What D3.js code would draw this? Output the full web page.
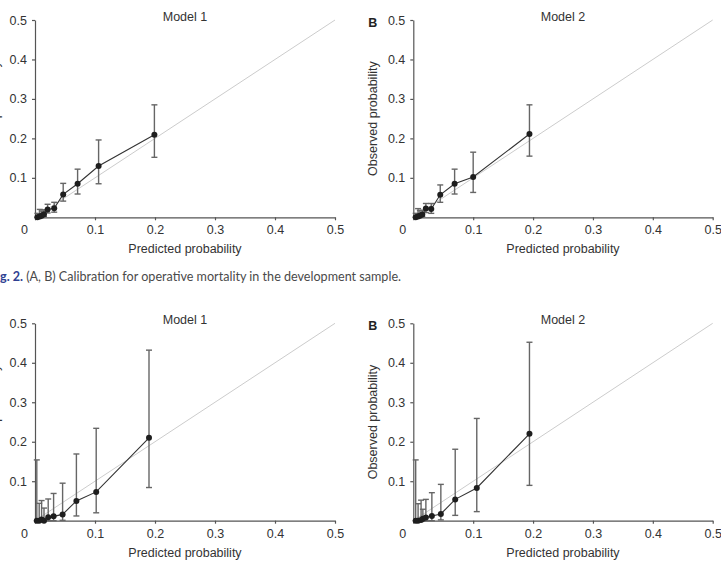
<!DOCTYPE html>
<html><head><meta charset="utf-8">
<script src="https://cdn.jsdelivr.net/npm/d3@7"></script>
<style>html,body{margin:0;padding:0;background:#fff;} svg{display:block;}</style>
</head><body><svg id="c" width="721" height="564"></svg>
<script>
// ---- data ----
const axisTicks = [0.1, 0.2, 0.3, 0.4, 0.5];
const xTickValues = [0, 0.1, 0.2, 0.3, 0.4, 0.5];
const panelTitles = ["Model 1", "Model 2"];
const panelLetters = ["A", "B"];
const xAxisTitle = "Predicted probability";
const yAxisTitle = "Observed probability";
const captionLabel = "g. 2.";
const captionText = " (A, B) Calibration for operative mortality in the development sample.";

// development sample, Model 1
const devM1Pred = [0.004, 0.008, 0.011, 0.015, 0.021, 0.032, 0.047, 0.071, 0.106, 0.199];
const devM1Obs  = [0.000, 0.002, 0.004, 0.008, 0.020, 0.023, 0.058, 0.085, 0.130, 0.209];
const devM1Lo   = [0.000, 0.000, 0.000, 0.002, 0.011, 0.013, 0.041, 0.059, 0.085, 0.152];
const devM1Hi   = [0.010, 0.020, 0.016, 0.019, 0.033, 0.038, 0.086, 0.122, 0.196, 0.285];
// development sample, Model 2
const devM2Pred = [0.004, 0.008, 0.011, 0.015, 0.021, 0.030, 0.045, 0.069, 0.100, 0.194];
const devM2Obs  = [0.000, 0.002, 0.004, 0.007, 0.022, 0.021, 0.057, 0.085, 0.102, 0.211];
const devM2Lo   = [0.000, 0.000, 0.000, 0.002, 0.012, 0.010, 0.038, 0.059, 0.063, 0.155];
const devM2Hi   = [0.010, 0.022, 0.017, 0.018, 0.035, 0.035, 0.082, 0.122, 0.165, 0.285];
// second sample, Model 1
const valM1Pred = [0.003, 0.007, 0.011, 0.015, 0.022, 0.031, 0.046, 0.069, 0.102, 0.190];
const valM1Obs  = [0.000, 0.000, 0.003, 0.000, 0.009, 0.011, 0.016, 0.050, 0.073, 0.210];
const valM1Lo   = [0.000, 0.000, 0.000, 0.000, 0.000, 0.000, 0.001, 0.012, 0.020, 0.084];
const valM1Hi   = [0.154, 0.044, 0.051, 0.032, 0.055, 0.069, 0.095, 0.169, 0.234, 0.432];
// second sample, Model 2
const valM2Pred = [0.004, 0.008, 0.013, 0.016, 0.021, 0.031, 0.046, 0.070, 0.106, 0.194];
const valM2Obs  = [0.000, 0.000, 0.002, 0.005, 0.008, 0.012, 0.017, 0.054, 0.083, 0.220];
const valM2Lo   = [0.000, 0.000, 0.000, 0.000, 0.000, 0.000, 0.002, 0.0135, 0.023, 0.0895];
const valM2Hi   = [0.154, 0.043, 0.052, 0.029, 0.054, 0.071, 0.092, 0.181, 0.259, 0.452];

// ---- layout ----
const svg = d3.select("#c");
const cols = [[35, 335], [413.3, 712.7]];
const rows = [[217.3, 20], [520.7, 323.3]];
const FONT = "'Liberation Sans', Arial, Helvetica, sans-serif";
const TXT = "#333";

function zipRows(p, o, lo, hi) {
  return p.map((v, i) => ({ x: v, y: o[i], lo: lo[i], hi: hi[i] }));
}

const panels = [
  { c: 0, r: 0, title: panelTitles[0], letter: panelLetters[0], data: zipRows(devM1Pred, devM1Obs, devM1Lo, devM1Hi) },
  { c: 1, r: 0, title: panelTitles[1], letter: panelLetters[1], data: zipRows(devM2Pred, devM2Obs, devM2Lo, devM2Hi) },
  { c: 0, r: 1, title: panelTitles[0], letter: panelLetters[0], data: zipRows(valM1Pred, valM1Obs, valM1Lo, valM1Hi) },
  { c: 1, r: 1, title: panelTitles[1], letter: panelLetters[1], data: zipRows(valM2Pred, valM2Obs, valM2Lo, valM2Hi) },
];

panels.forEach(p => {
  const x = d3.scaleLinear().domain([0, 0.5]).range(cols[p.c]);
  const y = d3.scaleLinear().domain([0, 0.5]).range(rows[p.r]);
  const g = svg.append("g");

  // diagonal reference
  g.append("line")
    .attr("x1", x(0)).attr("y1", y(0)).attr("x2", x(0.5)).attr("y2", y(0.5))
    .attr("stroke", "#cccccc").attr("stroke-width", 1);

  // axes
  const xAxis = d3.axisBottom(x).tickValues(xTickValues).tickSize(3).tickSizeOuter(0).tickPadding(5)
    .tickFormat(d => d === 0 ? "0" : d3.format(".1f")(d));
  const xg = g.append("g").attr("transform", `translate(0,${y(0)})`).call(xAxis);
  xg.selectAll("text").filter(d => d === 0).attr("x", -11);

  const yAxis = d3.axisLeft(y).tickValues(axisTicks).tickSize(3).tickSizeOuter(0).tickPadding(5)
    .tickFormat(d3.format(".1f"));
  const yg = g.append("g").attr("transform", `translate(${x(0)},0)`).call(yAxis);

  [xg, yg].forEach(a => {
    a.select(".domain").attr("stroke", "#555").attr("stroke-width", 1.2);
    a.selectAll(".tick line").attr("stroke", "#555").attr("stroke-width", 1.2);
    a.selectAll("text").attr("fill", TXT).style("font-family", FONT).style("font-size", "12.5px");
  });

  // error bars
  const eb = g.append("g").attr("stroke", "#666").attr("stroke-width", 1.4).attr("fill", "none");
  p.data.forEach(d => {
    eb.append("line").attr("x1", x(d.x)).attr("x2", x(d.x)).attr("y1", y(d.lo)).attr("y2", y(d.hi));
    eb.append("line").attr("x1", x(d.x) - 3).attr("x2", x(d.x) + 3).attr("y1", y(d.hi)).attr("y2", y(d.hi));
    eb.append("line").attr("x1", x(d.x) - 3).attr("x2", x(d.x) + 3).attr("y1", y(d.lo)).attr("y2", y(d.lo));
  });

  // connecting line
  g.append("path").datum(p.data)
    .attr("d", d3.line().x(d => x(d.x)).y(d => y(d.y)))
    .attr("fill", "none").attr("stroke", "#333").attr("stroke-width", 1.1);

  // points
  g.selectAll("circle.pt").data(p.data).join("circle")
    .attr("cx", d => x(d.x)).attr("cy", d => y(d.y)).attr("r", 3).attr("fill", "#1e1e1e");

  // title
  g.append("text").attr("x", (cols[p.c][0] + cols[p.c][1]) / 2).attr("y", rows[p.r][1] + 0.8)
    .attr("text-anchor", "middle").attr("fill", TXT)
    .style("font-family", FONT).style("font-size", "12.5px").text(p.title);

  // x title
  g.append("text").attr("x", (cols[p.c][0] + cols[p.c][1]) / 2).attr("y", y(0) + 36)
    .attr("text-anchor", "middle").attr("fill", TXT)
    .style("font-family", FONT).style("font-size", "12.5px").text(xAxisTitle);

  // y title
  const cy = (rows[p.r][0] + rows[p.r][1]) / 2;
  const tx = x(0) - 36;
  g.append("text").attr("transform", `translate(${tx},${cy}) rotate(-90)`)
    .attr("text-anchor", "middle").attr("fill", TXT)
    .style("font-family", FONT).style("font-size", "12.5px").text(yAxisTitle);

  // panel letter
  g.append("text").attr("x", x(0) - 45).attr("y", rows[p.r][1] + 7)
    .attr("fill", "#222").style("font-family", FONT).style("font-weight", "bold")
    .style("font-size", "12.5px").text(p.letter);
});

// caption
const cap = svg.append("text").attr("x", 0).attr("y", 281)
  .style("font-family", "Lato, 'Open Sans', sans-serif").style("font-size", "13px");
cap.append("tspan").attr("fill", "#2f3f92").style("font-weight", "bold").text(captionLabel);
cap.append("tspan").attr("fill", "#4a4a4a").text(captionText);
const w = cap.node().getComputedTextLength();
if (w > 0) cap.attr("textLength", 401).attr("lengthAdjust", "spacingAndGlyphs");
</script>
</body></html>
